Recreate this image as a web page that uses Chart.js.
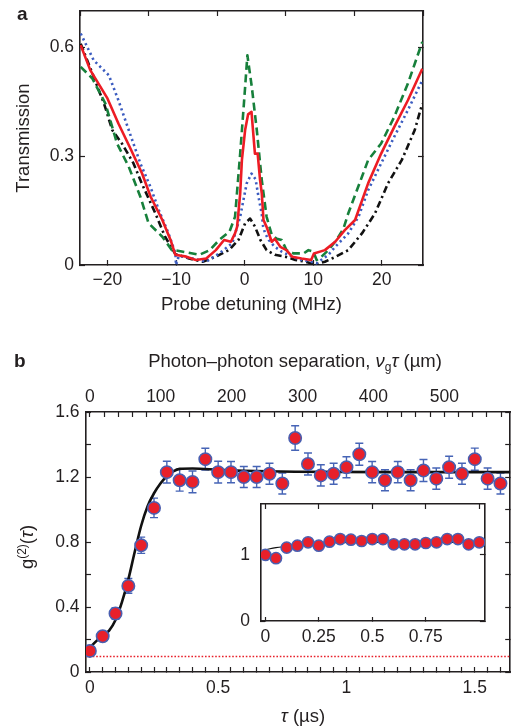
<!DOCTYPE html>
<html lang="en">
<head>
<meta charset="UTF-8" />
<title>Transmission and g2</title>
<script src="https://cdn.jsdelivr.net/npm/chart.js@4.4.1/dist/chart.umd.min.js"></script>
<style>
  body { margin: 0; background: #fff; width: 518px; height: 727px; position: relative; overflow: hidden;
         font-family: "Liberation Sans", Arial, sans-serif; color: #231f20; }
  .box { position: absolute; }
  .lbl { position: absolute; font-size: 18.5px; line-height: 1; white-space: nowrap; }
  .lbl sup { font-size: 12px; vertical-align: 7px; }
  .lbl sub { font-size: 12px; vertical-align: -4px; }
  .panel { font-weight: bold; font-size: 19px; }
</style>
</head>
<body>
<div class="box" style="left:0;top:0"><canvas id="chartA" width="518" height="320"></canvas></div>
<div class="box" style="left:0;top:330px"><canvas id="chartB" width="518" height="397"></canvas></div>
<div class="box" style="left:230px;top:495px"><canvas id="inset" width="262" height="155"></canvas></div>

<div class="lbl panel" style="left:17px;top:4px">a</div>
<div class="lbl panel" style="left:14px;top:351px">b</div>
<div class="lbl" style="left:295px;top:362px;transform:translate(-50%,-50%)">Photon–photon separation, <i>ν</i><sub>g</sub><i>τ</i> (µm)</div>
<div class="lbl" style="left:26px;top:547px;transform:translate(-50%,-50%) rotate(-90deg)">g<sup>(2)</sup>(<i>τ</i>)</div>
<div class="lbl" style="left:303px;top:716px;transform:translate(-50%,-50%)"><i>τ</i> (µs)</div>

<script>
// ---- panel a: transmission vs probe detuning (MHz)
const redX   = [-23.9, -22.5, -20.0, -18.4, -16.65, -14.95, -13.7, -12.0, -10.8, -10.1, -8.5, -7.1, -5.6, -4.2, -3.0, -2.0, -1.4, -1.1, -0.65, -0.4, 0.07, 0.5, 1.0, 1.5, 1.9, 2.25, 2.5, 2.75, 3.2, 3.95, 4.4, 5.2, 6.1, 6.9, 8.3, 9.7, 10.1, 11.7, 13.2, 14.6, 16.1, 18.0, 19.9, 21.8, 23.8, 25.9];
const redY   = [0.606, 0.537, 0.459, 0.39, 0.321, 0.252, 0.188, 0.124, 0.069, 0.028, 0.023, 0.014, 0.018, 0.041, 0.069, 0.064, 0.087, 0.105, 0.197, 0.289, 0.372, 0.415, 0.422, 0.307, 0.307, 0.234, 0.197, 0.124, 0.105, 0.064, 0.072, 0.05, 0.041, 0.023, 0.018, 0.014, 0.032, 0.041, 0.064, 0.096, 0.124, 0.225, 0.307, 0.38, 0.454, 0.541];
const greenX = [-23.9, -22.2, -20.3, -18.6, -16.9, -15.2, -14.0, -12.0, -10.6, -10.0, -8.5, -6.6, -5.1, -3.7, -2.2, -1.4, -0.65, 0.07, 0.4, 1.05, 1.77, 2.5, 3.2, 3.95, 4.7, 5.4, 6.1, 7.1, 8.6, 9.3, 10.0, 10.5, 11.2, 12.2, 13.4, 14.4, 15.1, 17.1, 18.0, 19.9, 21.8, 23.8, 25.9];
const greenY = [0.546, 0.514, 0.445, 0.335, 0.271, 0.188, 0.115, 0.078, 0.041, 0.04, 0.035, 0.028, 0.041, 0.069, 0.092, 0.133, 0.307, 0.49, 0.578, 0.49, 0.372, 0.234, 0.133, 0.083, 0.072, 0.069, 0.041, 0.032, 0.032, 0.041, 0.037, 0.014, 0.023, 0.041, 0.069, 0.1, 0.142, 0.243, 0.289, 0.335, 0.408, 0.5, 0.615];
const blueX  = [-23.9, -22.0, -19.8, -18.4, -16.9, -15.2, -13.75, -12.5, -11.1, -10.1, -10.0, -9.6, -7.6, -5.6, -3.7, -1.8, -0.65, 0.3, 1.0, 1.6, 2.0, 2.5, 2.7, 3.0, 3.5, 4.4, 5.4, 6.9, 8.3, 9.7, 10.5, 12.2, 13.2, 15.1, 16.6, 18.0, 19.9, 21.8, 23.8, 25.9];
const blueY  = [0.638, 0.564, 0.523, 0.454, 0.372, 0.28, 0.216, 0.151, 0.087, 0.033, 0.0, 0.025, 0.018, 0.009, 0.032, 0.06, 0.133, 0.225, 0.252, 0.236, 0.19, 0.14, 0.105, 0.087, 0.069, 0.05, 0.037, 0.023, 0.014, 0.009, 0.005, 0.028, 0.05, 0.087, 0.133, 0.206, 0.28, 0.353, 0.427, 0.509];
const blackX = [-23.9, -22.2, -20.5, -19.3, -17.9, -16.2, -15.0, -13.0, -11.6, -10.1, -8.1, -6.1, -4.2, -2.3, -0.9, 0.07, 0.8, 1.5, 2.3, 3.2, 4.4, 5.9, 7.4, 8.8, 10.3, 11.7, 13.2, 15.1, 17.1, 19.0, 20.9, 22.9, 24.8, 25.9];
const blackY = [0.61, 0.528, 0.445, 0.372, 0.335, 0.28, 0.225, 0.142, 0.078, 0.03, 0.018, 0.009, 0.023, 0.041, 0.069, 0.115, 0.128, 0.106, 0.069, 0.041, 0.028, 0.023, 0.014, 0.009, 0.002, 0.009, 0.022, 0.041, 0.087, 0.142, 0.225, 0.289, 0.372, 0.445];
const detuneTicks = [-20, -10, 0, 10, 20];
const transTicks = [0, 0.3, 0.6];

// ---- panel b: g2(tau), tau in microseconds
const tau   = [0, 0.05, 0.1, 0.15, 0.2, 0.25, 0.3, 0.35, 0.4, 0.45, 0.5, 0.55, 0.6, 0.65, 0.7, 0.75, 0.8, 0.85, 0.9, 0.95, 1.0, 1.05, 1.1, 1.15, 1.2, 1.25, 1.3, 1.35, 1.4, 1.45, 1.5, 1.55, 1.6];
const g2    = [0.13, 0.22, 0.36, 0.53, 0.78, 1.01, 1.23, 1.18, 1.17, 1.31, 1.23, 1.23, 1.20, 1.20, 1.22, 1.16, 1.44, 1.28, 1.21, 1.22, 1.26, 1.34, 1.23, 1.18, 1.23, 1.18, 1.24, 1.19, 1.26, 1.22, 1.31, 1.19, 1.16];
const g2Err = [0.02, 0.03, 0.035, 0.045, 0.05, 0.06, 0.067, 0.067, 0.067, 0.067, 0.067, 0.065, 0.065, 0.065, 0.065, 0.065, 0.075, 0.068, 0.065, 0.065, 0.065, 0.068, 0.065, 0.065, 0.065, 0.065, 0.068, 0.065, 0.068, 0.065, 0.068, 0.065, 0.065];
const fitT  = [0, 0.025, 0.05, 0.075, 0.1, 0.125, 0.15, 0.175, 0.2, 0.225, 0.25, 0.275, 0.3, 0.325, 0.35, 0.4, 0.5, 0.6, 0.8, 1.2, 1.64];
const fitG  = [0.15, 0.19, 0.225, 0.255, 0.32, 0.43, 0.57, 0.74, 0.9, 1.02, 1.1, 1.16, 1.205, 1.235, 1.25, 1.252, 1.245, 1.238, 1.232, 1.23, 1.23];
const floorLevel = 0.095;
const vg = 362; // um per us, for the top axis

// ---- inset
const insetT = [0, 0.05, 0.1, 0.15, 0.2, 0.25, 0.3, 0.35, 0.4, 0.45, 0.5, 0.55, 0.6, 0.65, 0.7, 0.75, 0.8, 0.85, 0.9, 0.95, 1.0];
const insetG = [1.0, 0.95, 1.11, 1.14, 1.19, 1.14, 1.20, 1.24, 1.23, 1.21, 1.24, 1.24, 1.16, 1.16, 1.16, 1.18, 1.19, 1.24, 1.24, 1.16, 1.19];
const insetFitT = [0, 0.05, 0.1, 0.15, 0.2, 0.3, 0.4, 0.5, 0.75, 1.0];
const insetFitG = [1.08, 1.11, 1.13, 1.15, 1.165, 1.18, 1.19, 1.19, 1.19, 1.19];

Chart.defaults.font.family = "'Liberation Sans', Arial, sans-serif";
Chart.defaults.font.size = 17.5;
Chart.defaults.color = '#231f20';
Chart.defaults.animation = false;

const ink = '#231f20';
const titleFont = { size: 18.5 };
const pts = (xs, ys) => xs.map((x, i) => ({x: x, y: ys[i]}));
const isMult = (v, m) => Math.abs(v / m - Math.round(v / m)) < 1e-6;
const fmt = v => (v < 0 ? '\u2212' : '') + String(+Math.abs(v).toFixed(2));

// fixed axis size, and no extra room for labels at the ends
function fixSize(size) {
  return s => {
    if (s.isHorizontal()) s.height = size; else s.width = size;
    s.paddingTop = 0; s.paddingBottom = 0; s.paddingLeft = 0; s.paddingRight = 0;
  };
}
function grid(len) {
  return { display: true, drawOnChartArea: false, drawTicks: true, tickLength: -len, tickColor: ink, tickWidth: 1.2 };
}
function border() { return { display: true, color: ink, width: 1.6 }; }
function mirror(pos, min, max, step) {
  return {
    type: 'linear', position: pos, min: min, max: max,
    grid: grid(5), border: border(),
    ticks: { display: false, stepSize: step, includeBounds: false, autoSkip: false },
    afterFit: fixSize(0)
  };
}

// panel a
new Chart(document.getElementById('chartA'), {
  type: 'line',
  data: {
    datasets: [
      { data: pts(redX, redY), borderColor: '#ed1c24', borderWidth: 2.6 },
      { data: pts(greenX, greenY), borderColor: '#17803b', borderWidth: 2.6, borderDash: [8, 4.5] },
      { data: pts(blueX, blueY), borderColor: '#3b5cc0', borderWidth: 2.6, borderDash: [2.2, 3.2] },
      { data: pts(blackX, blackY), borderColor: '#111', borderWidth: 2.6, borderDash: [7, 3.5, 2.2, 3.5] }
    ]
  },
  options: {
    responsive: false,
    elements: { point: { radius: 0 }, line: { tension: 0, borderJoinStyle: 'round' } },
    layout: { padding: { left: 0, right: 95, top: 11, bottom: 0 } },
    plugins: { legend: { display: false }, tooltip: { enabled: false } },
    scales: {
      x: {
        type: 'linear', position: 'bottom', min: -24, max: 26,
        grid: grid(5), border: border(),
        afterBuildTicks: s => { s.ticks = detuneTicks.map(v => ({value: v})); },
        ticks: { padding: 10, maxRotation: 0, autoSkip: false, callback: v => fmt(v) },
        title: { display: true, text: 'Probe detuning (MHz)', font: titleFont, padding: { top: 0, bottom: 4 } },
        afterFit: fixSize(55)
      },
      x2: mirror('top', -24, 26, 10),
      y: {
        type: 'linear', position: 'left', min: 0, max: 0.7,
        grid: grid(5), border: border(),
        afterBuildTicks: s => { s.ticks = transTicks.map(v => ({value: v})); },
        ticks: { padding: 11, autoSkip: false, callback: v => fmt(v) },
        title: { display: true, text: 'Transmission', font: titleFont, padding: { top: 13, bottom: 0 } },
        afterFit: fixSize(80)
      },
      y2: mirror('right', 0, 0.7, 0.3)
    }
  }
});

// error bars for panel b, drawn through the chart's scales
const errorBars = {
  id: 'errorBars',
  beforeDatasetsDraw(chart) {
    const {ctx, chartArea, scales} = chart;
    const x = scales.x, y = scales.y;
    ctx.save();
    ctx.beginPath();
    ctx.rect(chartArea.left, chartArea.top, chartArea.right - chartArea.left, chartArea.bottom - chartArea.top);
    ctx.clip();
    ctx.strokeStyle = '#4664b6';
    ctx.lineWidth = 1.4;
    tau.forEach((t, i) => {
      const px = x.getPixelForValue(t);
      const lo = y.getPixelForValue(g2[i] - g2Err[i]);
      const hi = y.getPixelForValue(g2[i] + g2Err[i]);
      ctx.beginPath();
      ctx.moveTo(px, lo); ctx.lineTo(px, hi);
      ctx.moveTo(px - 4, lo); ctx.lineTo(px + 4, lo);
      ctx.moveTo(px - 4, hi); ctx.lineTo(px + 4, hi);
      ctx.stroke();
    });
    ctx.restore();
  }
};

const tMin = -0.015, tMax = 1.638;

new Chart(document.getElementById('chartB'), {
  type: 'line',
  data: {
    datasets: [
      { data: pts(tau, g2), showLine: false, pointRadius: 6.2, pointBackgroundColor: '#e8202a',
        pointBorderColor: '#4a5fb0', pointBorderWidth: 1.6 },
      { data: pts(fitT, fitG), borderColor: '#111', borderWidth: 2.6, pointRadius: 0, cubicInterpolationMode: 'monotone' },
      { data: [{x: tMin, y: floorLevel}, {x: tMax, y: floorLevel}], borderColor: '#e8202a', borderWidth: 1.4,
        borderDash: [1.6, 1.8], pointRadius: 0 }
    ]
  },
  options: {
    responsive: false,
    layout: { padding: { left: 0, right: 2, top: 0, bottom: 0 } },
    plugins: { legend: { display: false }, tooltip: { enabled: false } },
    scales: {
      x: {
        type: 'linear', position: 'bottom', min: tMin, max: tMax,
        grid: grid(5), border: border(),
        ticks: { stepSize: 0.05, includeBounds: false, autoSkip: false, maxRotation: 0, padding: 11,
                 callback: v => isMult(v, 0.5) ? fmt(v) : '' },
        afterFit: fixSize(55)
      },
      xt: {
        type: 'linear', position: 'top', min: tMin * vg, max: tMax * vg,
        grid: grid(5), border: border(),
        ticks: { stepSize: 20, includeBounds: false, autoSkip: false, maxRotation: 0, padding: 9,
                 callback: v => isMult(v, 100) ? fmt(v) : '' },
        afterFit: fixSize(82)
      },
      y: {
        type: 'linear', position: 'left', min: 0, max: 1.6,
        grid: grid(5), border: border(),
        ticks: { stepSize: 0.2, includeBounds: false, autoSkip: false, padding: 11.5,
                 callback: v => isMult(v, 0.4) ? fmt(v) : '' },
        afterFit: fixSize(86)
      },
      y2: mirror('right', 0, 1.6, 0.2)
    }
  },
  plugins: [errorBars]
});

// inset
const whiteArea = {
  id: 'whiteArea',
  beforeDraw(chart) {
    const {ctx, chartArea: a} = chart;
    ctx.save();
    ctx.fillStyle = '#fff';
    ctx.fillRect(a.left, a.top, a.right - a.left, a.bottom - a.top);
    ctx.restore();
  }
};

new Chart(document.getElementById('inset'), {
  type: 'line',
  data: {
    datasets: [
      { data: pts(insetT, insetG), showLine: false, pointRadius: 5.6, pointBackgroundColor: '#e8202a',
        pointBorderColor: '#4a5fb0', pointBorderWidth: 1.5 },
      { data: pts(insetFitT, insetFitG), borderColor: '#111', borderWidth: 1.1, pointRadius: 0, cubicInterpolationMode: 'monotone' }
    ]
  },
  options: {
    responsive: false,
    layout: { padding: { left: 0, right: 5, top: 9, bottom: 0 } },
    plugins: { legend: { display: false }, tooltip: { enabled: false } },
    scales: {
      x: {
        type: 'linear', position: 'bottom', min: -0.02, max: 1.026,
        grid: grid(4), border: border(),
        afterBuildTicks: s => { s.ticks = s.ticks.filter(t => t.value <= 0.76); },
        ticks: { stepSize: 0.25, includeBounds: false, autoSkip: false, maxRotation: 0, padding: 10, callback: v => fmt(v) },
        afterFit: fixSize(29)
      },
      x2: mirror('top', -0.02, 1.026, 0.25),
      y: {
        type: 'linear', position: 'left', min: 0, max: 1.77,
        grid: grid(4), border: border(),
        ticks: { stepSize: 1, includeBounds: false, autoSkip: false, padding: 15, callback: v => fmt(v) },
        afterFit: fixSize(31)
      },
      y2: mirror('right', 0, 1.77, 1)
    }
  },
  plugins: [whiteArea]
});
</script>
</body>
</html>
